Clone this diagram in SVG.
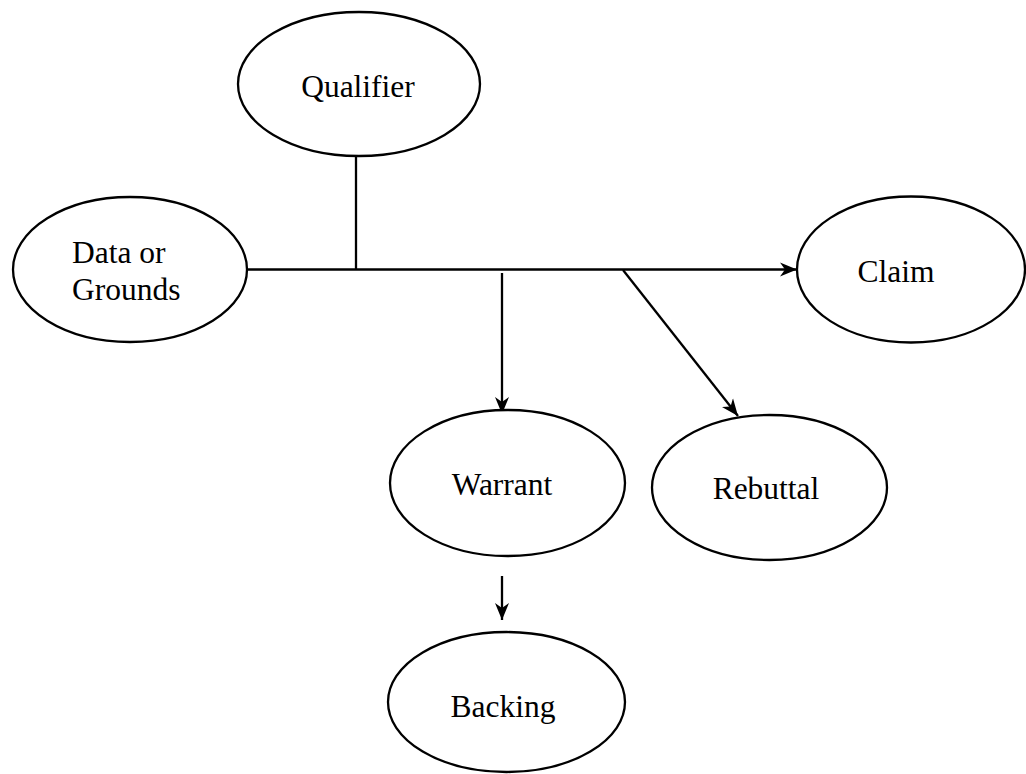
<svg xmlns="http://www.w3.org/2000/svg" width="1026" height="774" viewBox="0 0 1026 774">
<style>
.n ellipse{fill:#fff;stroke:#000;stroke-width:2.3}
.n text{font-family:"Liberation Serif","Times New Roman",serif;font-size:31.5px;fill:#000}
.c line{stroke:#000;stroke-width:2.3;fill:none}
</style>
<defs>
<marker id="ah" markerUnits="userSpaceOnUse" markerWidth="18" markerHeight="16" viewBox="0 0 18 16" refX="17" refY="8" orient="auto">
<path d="M0,1 L17,8 L0,15 L5,8 Z" fill="#000"/>
</marker>
</defs>
<rect width="1026" height="774" fill="#fff"/>
<g class="c" id="connectors">
<line x1="356" y1="156" x2="356" y2="270"/>
<line x1="246" y1="269.5" x2="797" y2="269.5" marker-end="url(#ah)"/>
<line x1="502" y1="273" x2="502" y2="414" marker-end="url(#ah)"/>
<line x1="623" y1="270" x2="738" y2="416" marker-end="url(#ah)"/>
<line x1="502" y1="576" x2="502" y2="620" marker-end="url(#ah)"/>
</g>
<g class="n" id="qualifier"><ellipse cx="359" cy="84" rx="121" ry="72"/><text x="358" y="97" text-anchor="middle">Qualifier</text></g>
<g class="n" id="data"><ellipse cx="130" cy="269.5" rx="117" ry="72.5"/><text x="72" y="263">Data or</text><text x="72" y="300">Grounds</text></g>
<g class="n" id="claim"><ellipse cx="911" cy="269.5" rx="114" ry="73"/><text x="896" y="282" text-anchor="middle">Claim</text></g>
<g class="n" id="warrant"><ellipse cx="507.5" cy="483" rx="117.5" ry="73"/><text x="502" y="495" text-anchor="middle">Warrant</text></g>
<g class="n" id="rebuttal"><ellipse cx="769.5" cy="487.5" rx="117.5" ry="72.5"/><text x="766" y="499" text-anchor="middle">Rebuttal</text></g>
<g class="n" id="backing"><ellipse cx="506.5" cy="702" rx="118.5" ry="70"/><text x="503" y="717" text-anchor="middle">Backing</text></g>
</svg>
